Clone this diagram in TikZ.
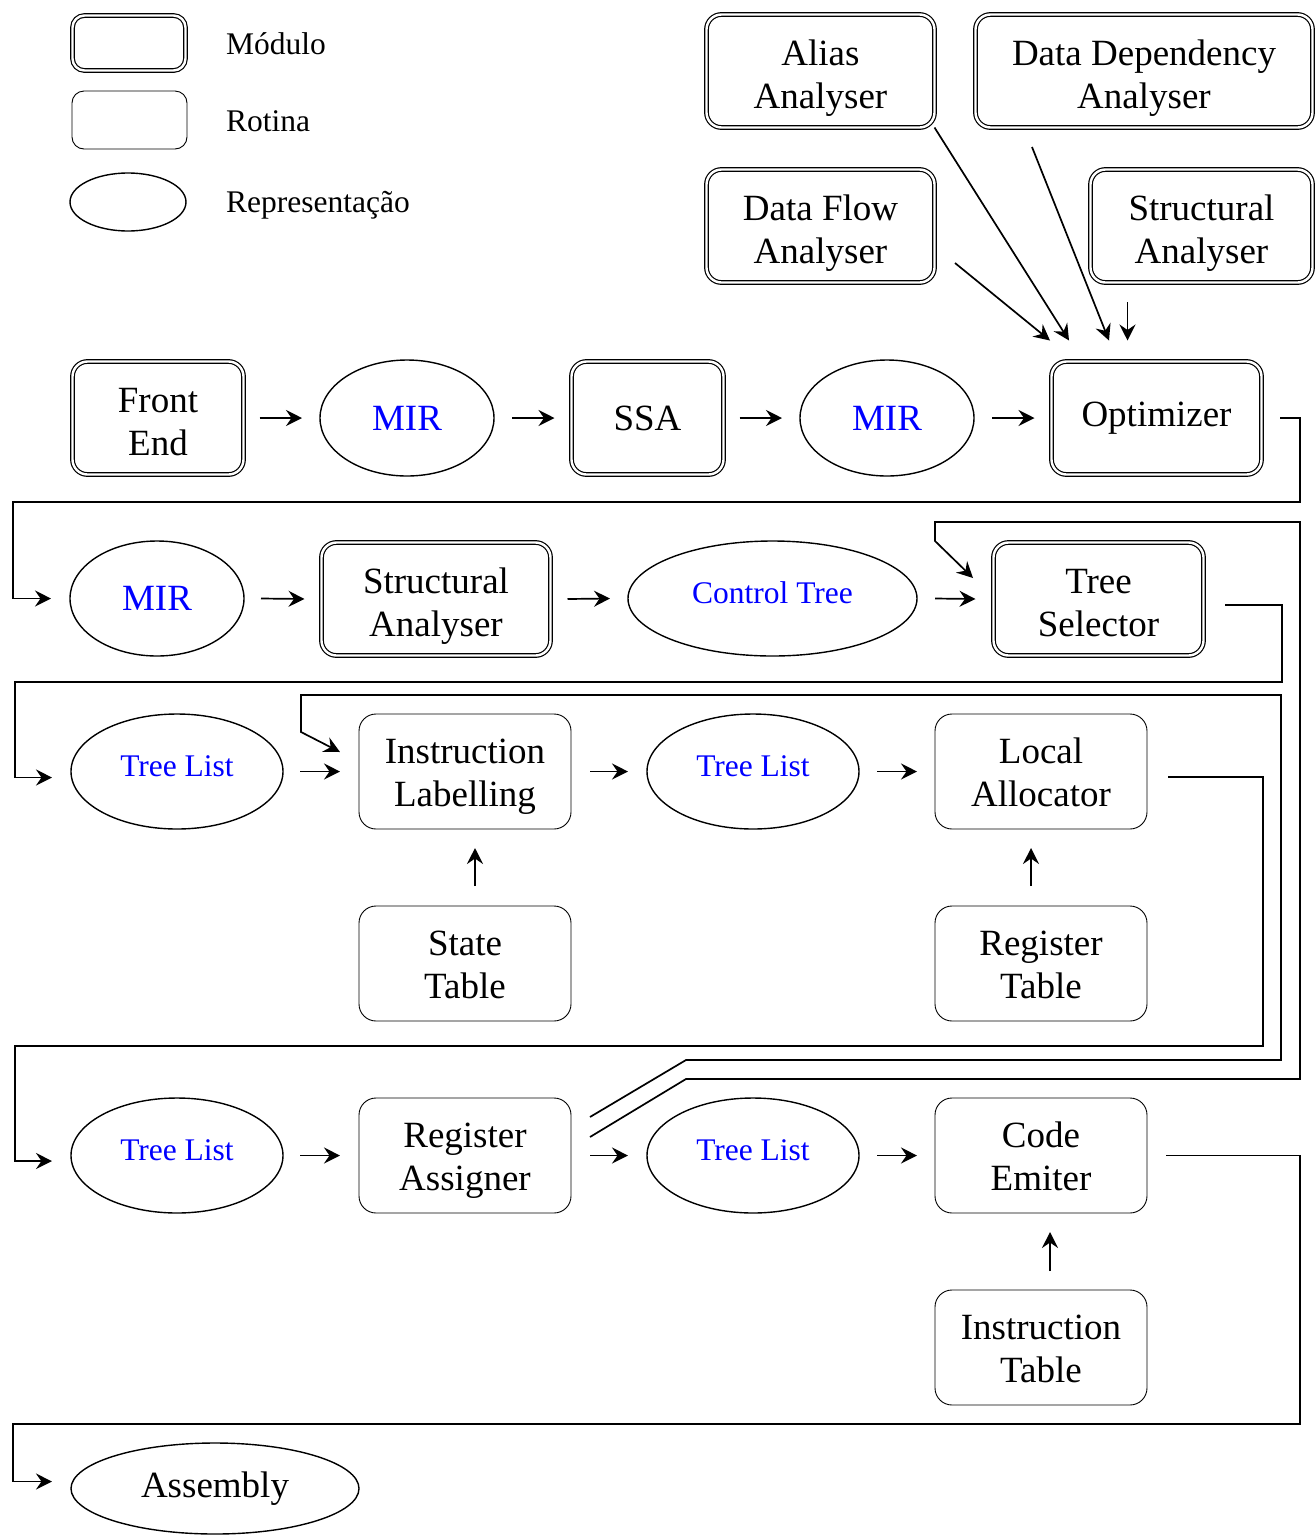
\documentclass[tikz,border=0pt]{standalone}
\usepackage{fontspec}
\setmainfont{Liberation Serif}
\usetikzlibrary{arrows.meta,shapes.geometric}
\newcommand\bigf{\fontsize{37}{43}\selectfont}
\newcommand\smlf{\fontsize{31.5}{37}\selectfont}
\begin{document}
\begin{tikzpicture}[x=1pt,y=-1pt,
  modbox/.style={draw, double, line width=1.2pt, double distance=2.4pt, rounded corners=15pt,
    align=center, inner sep=0pt, outer sep=0pt, minimum height=113pt, font=\bigf},
  rotbox/.style={draw, line width=0.9pt, rounded corners=17pt, align=center, inner sep=0pt,
    outer sep=0pt, minimum width=212pt, minimum height=115pt, font=\bigf},
  modtwo/.style={text height=82pt, text depth=8pt},
  rottwo/.style={text height=77pt, text depth=8pt},
  repr/.style={draw, ellipse, line width=1.4pt, inner sep=0pt, outer sep=0pt,
    minimum height=115pt, text=blue, font=\bigf},
  smlrepr/.style={repr, font=\smlf, text height=21pt, text depth=11.5pt},
  legtext/.style={anchor=base west, inner sep=0pt, font=\smlf},
  conn/.style={line width=1.7pt, -{Stealth[length=16pt,width=16pt,inset=5.5pt]}}
]
\useasboundingbox (0,0) rectangle (1316,1535);

% legend
\node[modbox, minimum width=113pt, minimum height=55pt, rounded corners=12pt] (lmod) at (129,43) {};
\node[rotbox, minimum width=115pt, minimum height=58pt, rounded corners=12pt] (lrot) at (129.5,120) {};
\node[repr, minimum width=116pt, minimum height=58pt] (lrep) at (128,202) {};
\node[legtext] (lmodt) at (226,54) {Módulo};
\node[legtext] (lrott) at (226,131) {Rotina};
\node[legtext] (lrept) at (226,212) {Representação};

% analysers
\node[modbox, modtwo, minimum width=228pt] (alias) at (820.5,71) {Alias\\Analyser};
\node[modbox, modtwo, minimum width=337pt] (dda) at (1144,71) {Data Dependency\\Analyser};
\node[modbox, modtwo, minimum width=228pt] (dfa) at (820.5,226) {Data Flow\\Analyser};
\node[modbox, modtwo, minimum width=222pt] (sat) at (1201.5,226) {Structural\\Analyser};

% row 1
\node[modbox, modtwo, minimum width=171pt] (fe) at (158,418) {Front\\End};
\node[repr, minimum width=174pt, minimum height=116pt] (mir1) at (407,418) {MIR};
\node[modbox, minimum width=152pt] (ssa) at (647.5,418) {SSA};
\node[repr, minimum width=174pt, minimum height=116pt] (mir2) at (887,418) {MIR};
\node[modbox, minimum width=210pt] (opt) at (1156.5,418) {Optimizer};

% row 2
\node[repr, minimum width=174pt] (mir3) at (157,598.5) {MIR};
\node[modbox, modtwo, minimum width=229pt] (sa) at (436,599) {Structural\\Analyser};
\node[smlrepr, minimum width=289pt] (ct) at (772.5,598.5) {Control Tree};
\node[modbox, modtwo, minimum width=210pt] (ts) at (1098.5,599) {Tree\\Selector};

% row 3
\node[smlrepr, minimum width=212pt] (tl1) at (177,771.5) {Tree List};
\node[rotbox, rottwo] (il) at (465,771.5) {Instruction\\Labelling};
\node[smlrepr, minimum width=212pt] (tl2) at (753,771.5) {Tree List};
\node[rotbox, rottwo] (la) at (1041,771.5) {Local\\Allocator};
\node[rotbox, rottwo] (st) at (465,963.5) {State\\Table};
\node[rotbox, rottwo] (rt) at (1041,963.5) {Register\\Table};

% row 4
\node[smlrepr, minimum width=212pt] (tl3) at (177,1155.5) {Tree List};
\node[rotbox, rottwo] (ra) at (465,1155.5) {Register\\Assigner};
\node[smlrepr, minimum width=212pt] (tl4) at (753,1155.5) {Tree List};
\node[rotbox, rottwo] (ce) at (1041,1155.5) {Code\\Emiter};
\node[rotbox, rottwo] (it) at (1041,1347.5) {Instruction\\Table};

% row 5
\node[repr, minimum width=288pt, minimum height=91pt, text=black] (asm) at (215,1488.5) {Assembly};

% analyser arrows into optimizer
\draw[conn] ([xshift=20.5pt,yshift=-37pt]dfa.east) -- ([xshift=-106.5pt,yshift=21pt]opt.north);
\draw[conn] (alias.south east) -- ([xshift=-87.5pt,yshift=21pt]opt.north);
\draw[conn] ([xshift=-112pt,yshift=-19.5pt]dda.south) -- ([xshift=-47.5pt,yshift=21pt]opt.north);
\draw[conn] ([xshift=-74pt,yshift=-19.5pt]sat.south) -- ([xshift=-29pt,yshift=21pt]opt.north);

% row 1 arrows
\draw[conn] ([xshift=16pt]fe.east) -- ([xshift=-18pt]mir1.west);
\draw[conn] ([xshift=18pt]mir1.east) -- ([xshift=-17pt]ssa.west);
\draw[conn] ([xshift=16pt]ssa.east) -- ([xshift=-18pt]mir2.west);
\draw[conn] ([xshift=18pt]mir2.east) -- ([xshift=-17pt]opt.west);

% optimizer -> row 2
\draw[conn] ([xshift=18.5pt]opt.east) -- (1300,418) -- (1300,502) -- (13,502) -- (13,598.5) -- ([xshift=-19pt]mir3.west);

% row 2 arrows
\draw[conn] ([xshift=17pt]mir3.east) -- ([xshift=-17pt]sa.west);
\draw[conn] ([xshift=17pt]sa.east) -- ([xshift=-18pt]ct.west);
\draw[conn] ([xshift=18pt]ct.east) -- ([xshift=-18pt]ts.west);

% tree selector -> row 3
\draw[conn] ([xshift=21.5pt,yshift=-6pt]ts.east) -- (1282,605) -- (1282,682) -- (15,682) -- (15,777.5) -- ([xshift=-19pt,yshift=-6pt]tl1.west);

% row 3 arrows
\draw[conn] ([xshift=17pt]tl1.east) -- ([xshift=-19pt]il.west);
\draw[conn] ([xshift=19pt]il.east) -- ([xshift=-19pt]tl2.west);
\draw[conn] ([xshift=18pt]tl2.east) -- ([xshift=-18pt]la.west);
\draw[conn] ([xshift=10pt,yshift=20pt]st.north) -- ([xshift=10pt,yshift=-19pt]il.south);
\draw[conn] ([xshift=-10pt,yshift=20pt]rt.north) -- ([xshift=-10pt,yshift=-19pt]la.south);

% local allocator -> row 4
\draw[conn] ([xshift=21pt,yshift=-5.5pt]la.east) -- (1263,777) -- (1263,1046) -- (15,1046) -- (15,1161) -- ([xshift=-19pt,yshift=-5.5pt]tl3.west);

% row 4 arrows
\draw[conn] ([xshift=17pt]tl3.east) -- ([xshift=-19pt]ra.west);
\draw[conn] ([xshift=19pt]ra.east) -- ([xshift=-19pt]tl4.west);
\draw[conn] ([xshift=18pt]tl4.east) -- ([xshift=-18pt]ce.west);
\draw[conn] ([xshift=9pt,yshift=19pt]it.north) -- ([xshift=9pt,yshift=-19pt]ce.south);

% register assigner feedbacks
\draw[conn] ([xshift=19pt,yshift=38.5pt]ra.east) -- (686,1060) -- (1281,1060) -- (1281,695) -- (301,695) -- (301,732) -- ([xshift=-19pt,yshift=19.5pt]il.west);
\draw[conn] ([xshift=19pt,yshift=18.5pt]ra.east) -- (686,1079) -- (1300,1079) -- (1300,522) -- (935,522) -- (935,541) -- ([xshift=-20.5pt,yshift=21pt]ts.west);

% code emiter -> assembly
\draw[conn] ([xshift=19pt]ce.east) -- (1300,1155.5) -- (1300,1424) -- (13,1424) -- (13,1481.5) -- ([xshift=-19pt,yshift=7pt]asm.west);
\end{tikzpicture}
\end{document}
